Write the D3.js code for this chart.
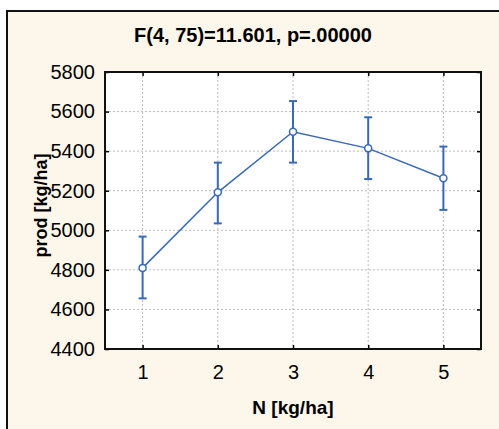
<!DOCTYPE html>
<html>
<head>
<meta charset="utf-8">
<script src="https://cdn.jsdelivr.net/npm/d3@7"></script>
<style>
	body { margin: 0; background: #ffffff; }
	svg text { font-family: Arial, "Liberation Sans", sans-serif; fill: #000; }
</style>
</head>
<body>
<div id="chart"></div>
<script>
let nLevels	= [1, 2, 3, 4, 5];
let means	= [4810, 5192, 5498, 5414, 5263];
let lower	= [4656, 5035, 5342, 5259, 5103];
let upper	= [4968, 5342, 5653, 5571, 5423];
let yTicks	= [4400, 4600, 4800, 5000, 5200, 5400, 5600, 5800];
let title	= "F(4, 75)=11.601, p=.00000";

let data = nLevels.map((n, i) => ({ n: n, mean: means[i], lo: lower[i], hi: upper[i] }));

let canvasWidth		= 499;
let canvasHeight	= 429;
let margin			= { top: 72, right: 18, bottom: 80, left: 105 };
let width			= canvasWidth - margin.left - margin.right;
let height			= canvasHeight - margin.top - margin.bottom;
let blue			= "#3a69b8";

let x = d3.scaleLinear().domain([0.5, 5.5]).range([0, width]);
let y = d3.scaleLinear().domain([4400, 5800]).range([height, 0]);

let root = d3.select("#chart").append("svg")
	.attr("width", canvasWidth)
	.attr("height", canvasHeight);

// outer panel
root.append("rect")
	.attr("x", 7).attr("y", 11)
	.attr("width", canvasWidth).attr("height", canvasHeight)
	.attr("fill", "#fcf7ea")
	.attr("stroke", "#111")
	.attr("stroke-width", 2);

root.append("text")
	.attr("x", 253).attr("y", 42)
	.attr("text-anchor", "middle")
	.attr("font-size", "20px")
	.attr("font-weight", "bold")
	.text(title);

let svg = root.append("g")
	.attr("transform", "translate(" + margin.left + "," + margin.top + ")");

svg.append("rect")
	.attr("width", width).attr("height", height)
	.attr("fill", "#fff");

// grid
svg.append("g").attr("class", "grid")
	.selectAll("line.gy").data(yTicks.slice(1, -1)).enter().append("line")
	.attr("x1", 0).attr("x2", width)
	.attr("y1", (o) => (y(o))).attr("y2", (o) => (y(o)))
	.attr("stroke", "#bcbcbc").attr("stroke-dasharray", "2,2");

svg.append("g").attr("class", "grid")
	.selectAll("line.gx").data(nLevels).enter().append("line")
	.attr("x1", (o) => (x(o))).attr("x2", (o) => (x(o)))
	.attr("y1", 0).attr("y2", height)
	.attr("stroke", "#bcbcbc").attr("stroke-dasharray", "2,2");

// axes, ticks pointing inward
svg.append("g")
	.attr("transform", "translate(0," + height + ")")
	.call(d3.axisBottom(x).tickValues(nLevels).tickSize(-4).tickPadding(16).tickFormat(d3.format("d")));

svg.append("g")
	.call(d3.axisTop(x).tickValues(nLevels).tickSize(-4).tickFormat(""));

svg.append("g")
	.call(d3.axisLeft(y).tickValues(yTicks).tickSize(-4).tickPadding(10).tickFormat(d3.format("d")));

svg.append("g")
	.attr("transform", "translate(" + width + ",0)")
	.call(d3.axisRight(y).tickValues(yTicks).tickSize(-4).tickFormat(""));

svg.selectAll(".domain").remove();
svg.selectAll(".tick line").attr("stroke", "#000").attr("stroke-width", 1.5);
svg.selectAll(".tick text").attr("font-size", "20px").attr("fill", "#000");

svg.append("rect")
	.attr("width", width).attr("height", height)
	.attr("fill", "none")
	.attr("stroke", "#111")
	.attr("stroke-width", 2);

// axis titles
svg.append("text")
	.attr("x", width / 2).attr("y", height + 65)
	.attr("text-anchor", "middle")
	.attr("font-size", "19px")
	.attr("font-weight", "bold")
	.text("N [kg/ha]");

svg.append("text")
	.attr("transform", "translate(-58," + (height / 2 - 5) + ") rotate(-90)")
	.attr("text-anchor", "middle")
	.attr("font-size", "18px")
	.attr("font-weight", "bold")
	.text("prod [kg/ha]");

// mean line
svg.append("path")
	.datum(data)
	.attr("fill", "none")
	.attr("stroke", blue)
	.attr("stroke-width", 1.5)
	.attr("d", d3.line().x((o) => (x(o.n))).y((o) => (y(o.mean))));

// error bars
let bars = svg.append("g").selectAll(".err").data(data).enter().append("g");

bars.append("line")
	.attr("x1", (o) => (x(o.n))).attr("x2", (o) => (x(o.n)))
	.attr("y1", (o) => (y(o.lo))).attr("y2", (o) => (y(o.hi)))
	.attr("stroke", blue).attr("stroke-width", 2);

bars.selectAll(".cap").data((o) => ([o.lo, o.hi].map((v) => ({ n: o.n, v: v })))).enter().append("line")
	.attr("x1", (o) => (x(o.n) - 4)).attr("x2", (o) => (x(o.n) + 4))
	.attr("y1", (o) => (y(o.v))).attr("y2", (o) => (y(o.v)))
	.attr("stroke", blue).attr("stroke-width", 2);

bars.append("circle")
	.attr("cx", (o) => (x(o.n))).attr("cy", (o) => (y(o.mean)))
	.attr("r", 3.5)
	.attr("fill", "#fff")
	.attr("stroke", blue)
	.attr("stroke-width", 1.5);
</script>
</body>
</html>
